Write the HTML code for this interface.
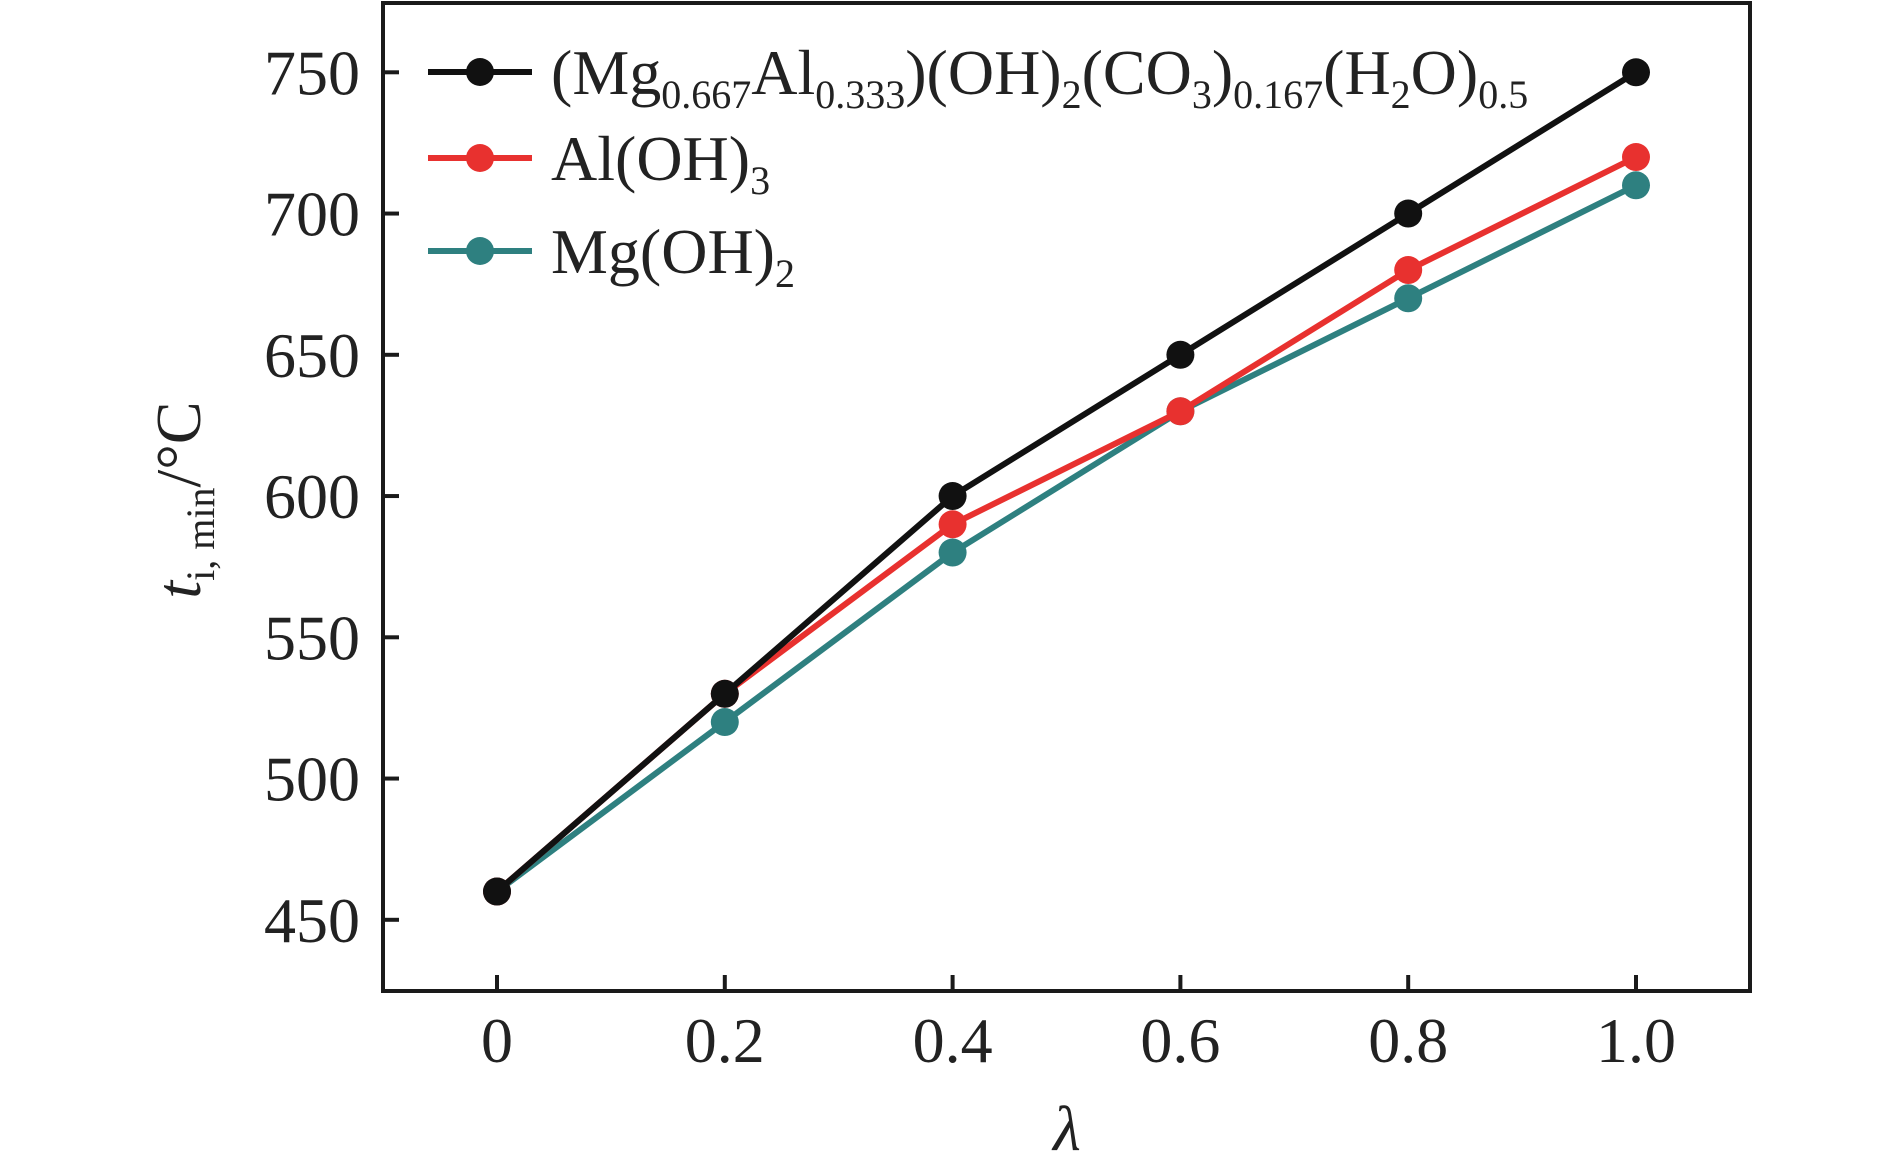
<!DOCTYPE html>
<html><head><meta charset="utf-8"><style>
body{margin:0;background:#fff}
svg{display:block}
text{font-family:"Liberation Serif",serif;fill:#222}
</style></head><body>
<svg id="chart" width="1890" height="1173" viewBox="0 0 1890 1173" xmlns="http://www.w3.org/2000/svg">
<g id="plot"></g>
<rect x="383" y="3" width="1367" height="988" fill="none" stroke="#1a1a1a" stroke-width="4"/>
<g id="axes"></g>
<text x="1067" y="1150" font-size="64" font-style="italic" text-anchor="middle">λ</text>
<text transform="translate(200,500) rotate(-90)" font-size="64" text-anchor="middle"><tspan font-style="italic">t</tspan><tspan font-size="40" dy="14">i, min</tspan><tspan dy="-14">/°C</tspan></text>
<g id="legend"></g>
</svg>
<script>
const xValues=[0,0.2,0.4,0.6,0.8,1.0];
const xTickLabels=["0","0.2","0.4","0.6","0.8","1.0"];
const yTicks=[450,500,550,600,650,700,750];
const seriesLDH=[460,530,600,650,700,750];
const seriesAlOH3=[460,530,590,630,680,720];
const seriesMgOH2=[460,520,580,630,670,710];
const NS="http://www.w3.org/2000/svg";
function X(v){return 497+v*1139;}
function Y(v){return 72.3+(750-v)*2.825;}
function mk(tag,attrs,parent){const e=document.createElementNS(NS,tag);for(const k in attrs)e.setAttribute(k,attrs[k]);parent.appendChild(e);return e;}
const axes=document.getElementById('axes');
xValues.forEach((v,i)=>{
  const t=mk('line',{x1:X(v),x2:X(v),y1:991,y2:975,stroke:'#1a1a1a','stroke-width':4},axes);
  
  
  const l=mk('text',{x:X(v),y:1062,'font-size':64,'text-anchor':'middle'},axes);
  l.textContent=xTickLabels[i];
  
  
});
yTicks.forEach(v=>{
  const t=mk('line',{x1:383,x2:399,y1:Y(v),y2:Y(v),stroke:'#1a1a1a','stroke-width':4},axes);
  
  
  const l=mk('text',{x:360,y:Y(v)+22,'font-size':64,'text-anchor':'end'},axes);
  l.textContent=String(v);
  
  
});
const series=[[seriesMgOH2,'#2e8080','series-mg-oh2'],[seriesAlOH3,'#e8312f','series-al-oh3'],[seriesLDH,'#111111','series-ldh']];
const plot=document.getElementById('plot');
series.forEach(([vals,col,name])=>{
  const g=mk('g',{},plot);
  
  
  const pts=vals.map((v,i)=>X(xValues[i])+','+Y(v)).join(' ');
  const pl=mk('polyline',{points:pts,fill:'none',stroke:col,'stroke-width':6,'stroke-linejoin':'round'},g);
  
  
  vals.forEach((v,i)=>{
    const c=mk('circle',{cx:X(xValues[i]),cy:Y(v),r:14,fill:col},g);
    
    
  });
});
const legend=document.getElementById('legend');
const legendItems=[['#111111',72,'(Mg<tspan font-size="40" dy="14">0.667</tspan><tspan dy="-14">Al</tspan><tspan font-size="40" dy="14">0.333</tspan><tspan dy="-14">)(OH)</tspan><tspan font-size="40" dy="14">2</tspan><tspan dy="-14">(CO</tspan><tspan font-size="40" dy="14">3</tspan><tspan dy="-14">)</tspan><tspan font-size="40" dy="14">0.167</tspan><tspan dy="-14">(H</tspan><tspan font-size="40" dy="14">2</tspan><tspan dy="-14">O)</tspan><tspan font-size="40" dy="14">0.5</tspan>','legend-entry-ldh'],
['#e8312f',158,'Al(OH)<tspan font-size="40" dy="14">3</tspan>','legend-entry-al-oh3'],
['#2e8080',251,'Mg(OH)<tspan font-size="40" dy="14">2</tspan>','legend-entry-mg-oh2']];
legendItems.forEach(([col,y,html,name])=>{
  const g=mk('g',{},legend);
  
  
  mk('line',{x1:428,x2:532,y1:y,y2:y,stroke:col,'stroke-width':6},g);
  mk('circle',{cx:480,cy:y,r:14,fill:col},g);
  const t=mk('text',{x:551,y:y+22,'font-size':64},g);
  t.innerHTML=html;
});
</script>
</body></html>
